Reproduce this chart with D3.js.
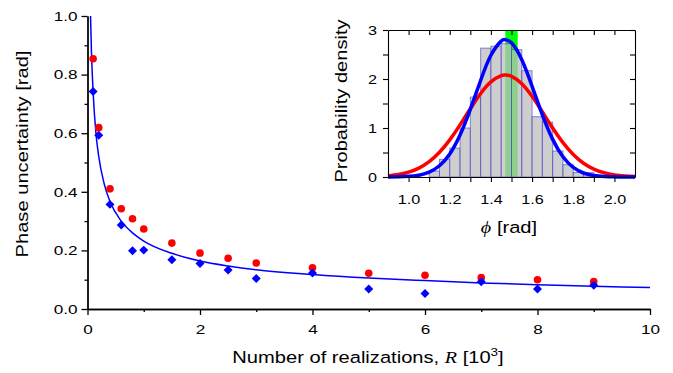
<!DOCTYPE html>
<html>
<head>
<meta charset="utf-8">
<script src="https://cdn.jsdelivr.net/npm/d3@7/dist/d3.min.js"></script>
<style>
  body { margin: 0; background: #fff; }
  text { font-family: "Liberation Sans", Arial, sans-serif; fill: #000; }
  .axis path, .axis line { stroke: #000; }
</style>
</head>
<body>
<script>
const width = 673,
  height = 373;

// main panel: phase uncertainty vs number of realizations (in 10^3)
const realizations = [0.1, 0.2, 0.4, 0.6, 0.8, 1, 1.5, 2, 2.5, 3, 4, 5, 6, 7, 8, 9];
const redValues = [0.854, 0.619, 0.41, 0.342, 0.308, 0.273, 0.225, 0.191, 0.173, 0.157, 0.141, 0.122, 0.115, 0.107, 0.100, 0.094];
const blueValues = [0.742, 0.593, 0.357, 0.287, 0.199, 0.201, 0.168, 0.155, 0.133, 0.104, 0.123, 0.068, 0.053, 0.093, 0.068, 0.081];

// fitted curve
const fitR = [0.054, 0.07, 0.1, 0.15, 0.2, 0.3, 0.4, 0.6, 0.8, 1, 1.5, 2, 2.5, 3, 4, 5, 6, 7, 8, 9, 10];
const fitValues = [1.0, 0.88, 0.74, 0.60, 0.52, 0.425, 0.367, 0.30, 0.26, 0.232, 0.19, 0.164, 0.147, 0.134, 0.118, 0.106, 0.097, 0.089, 0.083, 0.078, 0.073];

const xMajor = [0, 2, 4, 6, 8, 10];
const xMinor = [1, 3, 5, 7, 9];
const yMajor = [0, 0.2, 0.4, 0.6, 0.8, 1.0];
const yMinor = [0.1, 0.3, 0.5, 0.7, 0.9];

// inset: histogram of phase estimates
const binEdges = [1.10, 1.15, 1.20, 1.25, 1.30, 1.35, 1.40, 1.45, 1.50, 1.55, 1.60, 1.65, 1.70, 1.75, 1.80, 1.85, 1.90];
const binDensity = [0.12, 0.36, 0.59, 1.0, 1.63, 2.63, 2.67, 2.72, 2.60, 2.17, 1.23, 1.12, 0.53, 0.25, 0.09, 0.09];
const densityPhi = [0.90, 0.95, 1.00, 1.05, 1.10, 1.15, 1.20, 1.25, 1.30, 1.35, 1.40, 1.45, 1.47, 1.50, 1.55, 1.60, 1.65, 1.70, 1.75, 1.80, 1.85, 1.90, 1.95, 2.00, 2.05, 2.10];
const blueDensity = [0.001, 0.004, 0.013, 0.037, 0.099, 0.229, 0.471, 0.858, 1.381, 1.970, 2.484, 2.773, 2.80, 2.739, 2.394, 1.852, 1.268, 0.768, 0.412, 0.195, 0.082, 0.030, 0.010, 0.003, 0.001, 0.0];
const redDensity = [0.023, 0.049, 0.098, 0.181, 0.313, 0.504, 0.758, 1.064, 1.394, 1.704, 1.943, 2.069, 2.08, 2.054, 1.904, 1.646, 1.328, 0.999, 0.702, 0.460, 0.281, 0.161, 0.086, 0.042, 0.020, 0.009];
const trueBand = [1.47, 1.53];

const phiMajor = [1.0, 1.2, 1.4, 1.6, 1.8, 2.0];
const phiAll = d3.range(10, 21).map(d => d / 10);
const densMajor = [0, 1, 2, 3];
const densAll = [0, 0.5, 1, 1.5, 2, 2.5, 3];

// the original font is set wide, so text is stretched along its baseline
const tickStretch = 1.27,
  insetTickStretch = 1.2,
  titleStretch = 1.22;

const svg = d3.select('body').append('svg')
  .attr('width', width)
  .attr('height', height);

function styleTicks(g, sx, vertical) {
  g.selectAll('text')
    .attr('font-size', 13.5)
    .attr('font-family', '"Liberation Sans", Arial, sans-serif')
    .attr('fill', '#000')
    .each(function () {
      const t = d3.select(this);
      if (vertical) t.attr('x', +t.attr('x') / sx);
      t.attr('transform', `scale(${sx},1)`);
    });
}

// ---------- main panel ----------
const x = d3.scaleLinear().domain([0, 10]).range([87.5, 650]);
const y = d3.scaleLinear().domain([0, 1]).range([309, 16]);

const gx = svg.append('g')
  .attr('class', 'axis')
  .attr('transform', `translate(0,${y(0)})`);
gx.call(d3.axisBottom(x).tickValues(xMinor).tickSize(3).tickSizeOuter(0).tickFormat(''));
gx.append('g').call(d3.axisBottom(x).tickValues(xMajor).tickSize(6).tickSizeOuter(0).tickPadding(9));
styleTicks(gx, tickStretch, false);

const gy = svg.append('g')
  .attr('class', 'axis')
  .attr('transform', `translate(${x(0)},0)`);
gy.call(d3.axisLeft(y).tickValues(yMinor).tickSize(3).tickSizeOuter(0).tickFormat(''));
gy.append('g').call(d3.axisLeft(y).tickValues(yMajor).tickSize(6).tickSizeOuter(0).tickPadding(4)
  .tickFormat(d3.format('.1f')));
styleTicks(gy, tickStretch, true);

svg.selectAll('.axis path, .axis line').attr('stroke-width', 1.3);

svg.append('path')
  .datum(fitR.map((r, i) => [r, fitValues[i]]))
  .attr('fill', 'none')
  .attr('stroke', '#0000ff')
  .attr('stroke-width', 1.5)
  .attr('d', d3.line().x(d => x(d[0])).y(d => y(d[1])).curve(d3.curveMonotoneX));

svg.append('g')
  .selectAll('circle')
  .data(realizations)
  .enter().append('circle')
  .attr('cx', d => x(d))
  .attr('cy', (d, i) => y(redValues[i]))
  .attr('r', 3.8)
  .attr('fill', '#ff0000');

svg.append('g')
  .selectAll('path')
  .data(realizations)
  .enter().append('path')
  .attr('transform', (d, i) => `translate(${x(d)},${y(blueValues[i])}) rotate(45)`)
  .attr('d', d3.symbol().type(d3.symbolSquare).size(40))
  .attr('fill', '#0000ff');

svg.append('text')
  .attr('class', 'title')
  .attr('transform', `translate(28,154) rotate(-90) scale(${titleStretch},1)`)
  .attr('text-anchor', 'middle')
  .text('Phase uncertainty [rad]');

const xt = svg.append('text')
  .attr('class', 'title')
  .attr('transform', `translate(368,363) scale(${titleStretch},1)`)
  .attr('text-anchor', 'middle');
xt.append('tspan').text('Number of realizations, ');
xt.append('tspan').attr('font-family', '"Liberation Serif", serif').attr('font-style', 'italic').text('R');
xt.append('tspan').text(' [10');
xt.append('tspan').attr('font-size', 11).attr('dy', -7).text('3');
xt.append('tspan').attr('dy', 7).text(']');

// ---------- inset ----------
const ix = d3.scaleLinear().domain([0.9, 2.1]).range([388, 635]);
const iy = d3.scaleLinear().domain([0, 3]).range([177, 30]);

svg.append('rect')
  .attr('x', ix(0.9)).attr('y', iy(3))
  .attr('width', ix(2.1) - ix(0.9)).attr('height', iy(0) - iy(3))
  .attr('fill', '#fff');

svg.append('rect')
  .attr('x', ix(trueBand[0])).attr('y', iy(3))
  .attr('width', ix(trueBand[1]) - ix(trueBand[0])).attr('height', iy(0) - iy(3))
  .attr('fill', '#00ff00');

svg.append('g')
  .selectAll('rect')
  .data(binDensity)
  .enter().append('rect')
  .attr('x', (d, i) => ix(binEdges[i]))
  .attr('y', d => iy(d))
  .attr('width', (d, i) => ix(binEdges[i + 1]) - ix(binEdges[i]))
  .attr('height', d => iy(0) - iy(d))
  .attr('fill', 'rgba(190,190,190,0.75)')
  .attr('stroke', 'rgba(60,60,200,0.6)')
  .attr('stroke-width', 1);

const densLine = d3.line().x(d => ix(d[0])).y(d => iy(d[1])).curve(d3.curveNatural);

svg.append('path')
  .datum(densityPhi.map((p, i) => [p, redDensity[i]]))
  .attr('fill', 'none')
  .attr('stroke', '#ff0000')
  .attr('stroke-width', 3.5)
  .attr('d', densLine);

svg.append('path')
  .datum(densityPhi.map((p, i) => [p, blueDensity[i]]))
  .attr('fill', 'none')
  .attr('stroke', '#0000ff')
  .attr('stroke-width', 3.5)
  .attr('d', densLine);

const ib = svg.append('g').attr('class', 'axis inset')
  .attr('transform', `translate(0,${iy(0)})`)
  .call(d3.axisBottom(ix).tickValues(phiAll).tickSize(5).tickSizeOuter(0).tickPadding(12)
    .tickFormat(d => phiMajor.some(m => Math.abs(m - d) < 1e-9) ? d3.format('.1f')(d) : ''));
styleTicks(ib, insetTickStretch, false);
svg.append('g').attr('class', 'axis inset')
  .attr('transform', `translate(0,${iy(3)})`)
  .call(d3.axisTop(ix).tickValues(phiAll).tickSize(-5).tickSizeOuter(0).tickFormat(''));
const il = svg.append('g').attr('class', 'axis inset')
  .attr('transform', `translate(${ix(0.9)},0)`)
  .call(d3.axisLeft(iy).tickValues(densAll).tickSize(5).tickSizeOuter(0).tickPadding(6)
    .tickFormat(d => densMajor.includes(d) ? d : ''));
styleTicks(il, insetTickStretch, true);
svg.append('g').attr('class', 'axis inset')
  .attr('transform', `translate(${ix(2.1)},0)`)
  .call(d3.axisRight(iy).tickValues(densAll).tickSize(-5).tickSizeOuter(0).tickFormat(''));

svg.selectAll('.inset path, .inset line').attr('stroke-width', 1.1);

svg.append('text')
  .attr('class', 'title')
  .attr('transform', `translate(347,101) rotate(-90) scale(${titleStretch},1)`)
  .attr('text-anchor', 'middle')
  .text('Probability density');

const pt = svg.append('text')
  .attr('class', 'title')
  .attr('transform', `translate(509,233) scale(${titleStretch},1)`)
  .attr('text-anchor', 'middle');
pt.append('tspan').attr('font-family', '"Liberation Serif", serif').attr('font-style', 'italic').text('\u03D5');
pt.append('tspan').text(' [rad]');

svg.selectAll('.title').attr('font-size', 16.5);
</script>
</body>
</html>
